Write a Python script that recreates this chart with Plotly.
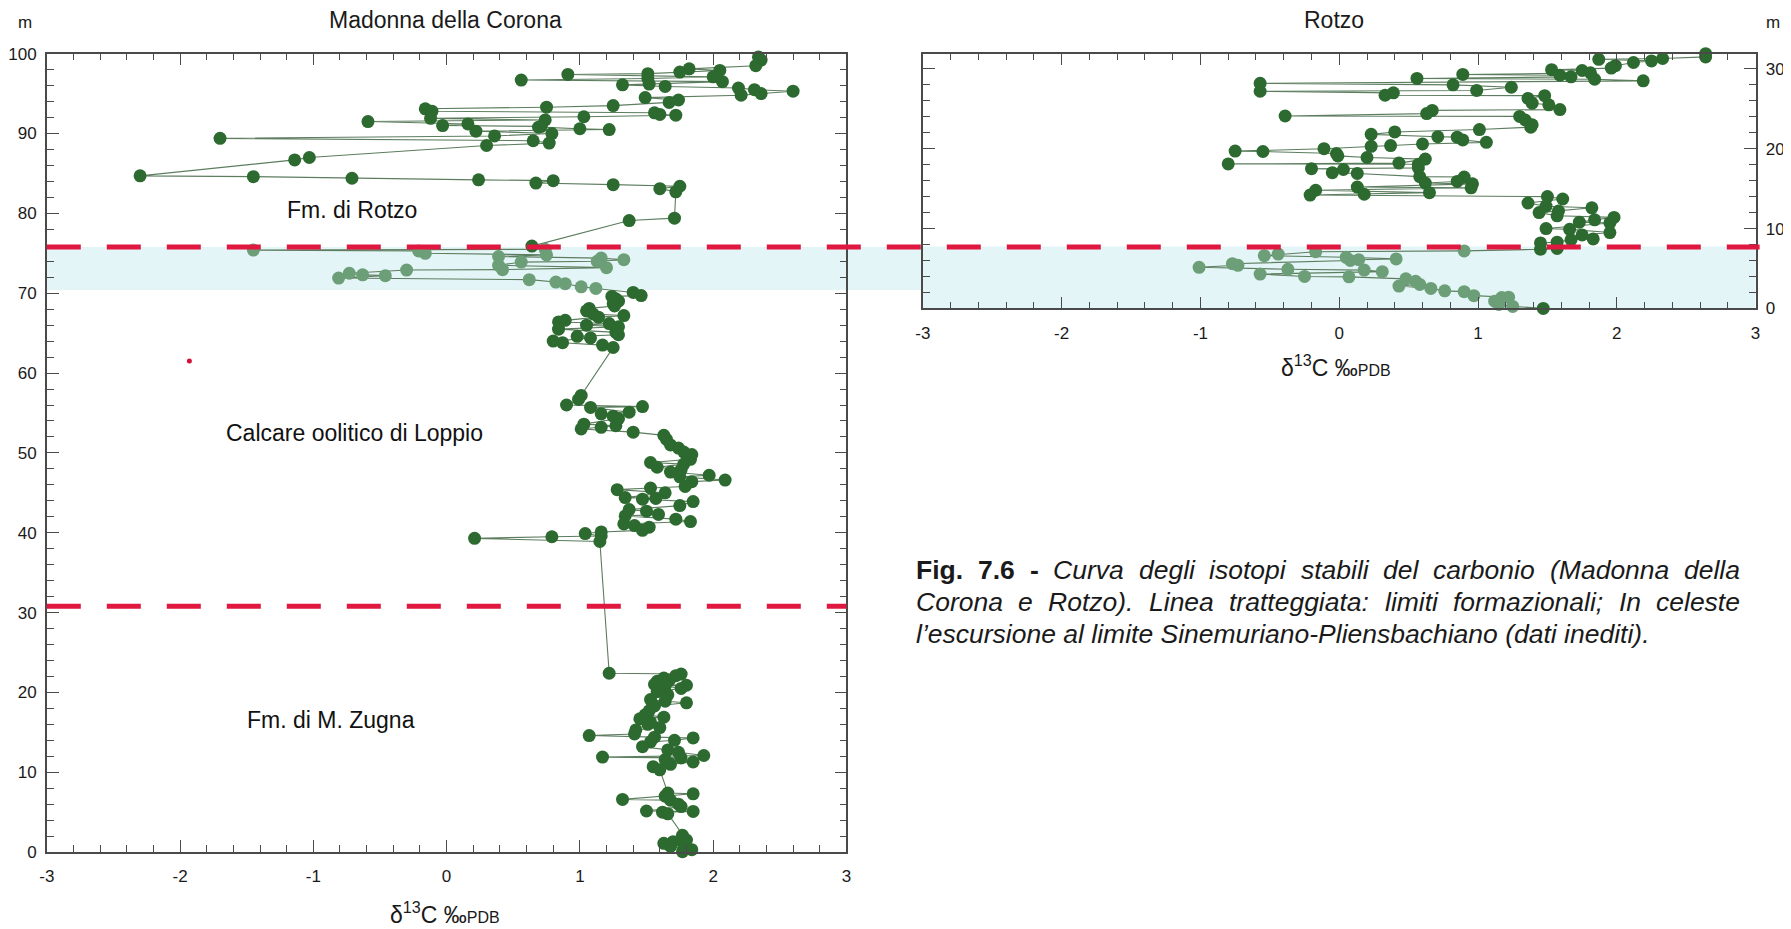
import re
import plotly.graph_objects as go

# ---------------- DATA ----------------
# Madonna della Corona section: depth (m) and d13C (permil PDB)
mc_depth = [99.6, 99.2, 98.5, 98.1, 97.9, 97.7, 97.5, 97.4, 97.1, 96.9, 96.7, 96.5, 96.2, 96.1, 95.9,
            95.7, 95.5, 95.3, 95.0, 94.8, 94.5, 94.2, 93.9, 93.5, 93.3, 93.1, 92.8, 92.6, 92.4, 92.3,
            92.1, 91.9, 91.7, 91.5, 91.2, 91.0, 90.9, 90.8, 90.6, 90.5, 90.3, 90.0, 89.7, 89.4, 89.1,
            88.8, 88.5, 87.0, 86.7, 84.7, 84.6, 84.4, 84.2, 84.1, 83.8, 83.6, 83.4, 83.1, 82.7, 79.4,
            79.1, 75.9,
            75.5, 75.4, 75.3, 75.0, 74.8, 74.6, 74.4, 74.2, 74.0, 73.9, 73.5, 73.2, 72.95, 72.9, 72.5,
            72.3, 72.2, 71.9, 71.7, 71.4, 71.2, 70.8, 70.6,
            70.1, 69.7, 69.6, 69.3, 69.0, 68.7, 68.4, 68.1, 67.8, 67.4, 67.2, 67.0, 66.6, 66.4, 66.2,
            66.0, 65.8, 65.5, 65.1, 64.8, 64.6, 64.4, 64.0, 63.8, 63.5, 63.2, 57.2, 56.7, 56.0, 55.8,
            55.7, 55.1, 54.9, 54.6, 54.3, 53.6, 53.4, 53.2, 53.0, 52.6, 52.2, 51.7, 51.0, 50.6, 50.1,
            49.8, 49.2, 48.8, 48.6, 48.2, 47.9, 47.6, 47.2, 47.0, 46.6, 46.4, 45.8, 45.6, 45.4, 45.0,
            44.4, 44.3, 44.2, 43.9, 43.4, 42.9, 42.7, 42.3, 42.1, 41.7, 41.4, 41.1, 40.9, 40.7, 40.3,
            40.1, 39.9, 39.6, 39.5, 39.3, 38.9, 22.4, 22.3, 22.1, 21.8, 21.5, 21.4, 21.0, 20.9, 20.8,
            20.5, 20.1, 19.7, 19.1, 18.9, 18.7, 18.3, 17.7, 17.2, 16.9, 16.7, 16.3, 16.0, 15.6, 15.3,
            14.8, 14.6, 14.4, 14.3, 14.0, 13.8, 13.2, 12.8, 12.5, 12.1, 11.9, 11.8, 11.6, 11.3, 11.0,
            10.7, 10.3, 7.4, 7.3, 7.0, 6.6, 6.5, 6.0, 5.7, 5.15, 5.1, 5.0, 4.8, 2.1, 1.5, 1.3, 1.1,
            1.0, 0.7, 0.3, 0.05, -0.1]
mc_d13c = [2.34, 2.36, 2.32, 1.82, 2.05, 1.75, 1.51, 0.91, 2.00, 1.51, 0.56, 2.07, 1.52, 1.32, 1.64,
           2.19, 2.31, 2.60, 2.36, 2.21, 1.49, 1.74, 1.67, 1.25, 0.75, -0.16, -0.11, 1.56, 1.60, 1.72,
           1.03, -0.12, 0.74, -0.59, 0.16, -0.03, 0.71, 0.69, 1.00, 1.22, 0.22, 0.79, 0.36, -1.70, 0.65,
           0.77, 0.30, -1.03, -1.14, -2.30, -1.45, -0.71, 0.24, 0.80, 0.67, 1.25, 1.75, 1.60, 1.72, 1.71,
           1.37, 0.64,
           0.74, -1.45, -0.21, -0.16, 0.75, 0.39, 1.16, 1.33, 1.13, 0.56, 0.39, 1.20, 0.42, -0.30, -0.73,
           -0.63, -0.46, -0.81, 0.62, 0.82, 0.89, 1.01, 1.12,
           1.40, 1.46, 1.24, 1.27, 1.29, 1.25, 1.26, 1.07, 1.05, 1.10, 1.33, 1.14, 0.89, 0.84, 1.22,
           1.05, 1.29, 0.84, 1.27, 1.29, 0.98, 1.08, 0.80, 0.87, 1.17, 1.25, 1.01, 0.99, 0.90, 1.47,
           1.08, 1.37, 1.16, 1.25, 1.29, 1.03, 1.27, 1.16, 1.01, 1.40, 1.63, 1.65, 1.68, 1.74, 1.78,
           1.84, 1.83, 1.53, 1.78, 1.58, 1.76, 1.68, 1.97, 1.75, 2.09, 1.84, 1.79, 1.53, 1.28, 1.64,
           1.34, 1.57, 1.47, 1.85, 1.75, 1.37, 1.50, 1.59, 1.34, 1.72, 1.83, 1.33, 1.41, 1.52, 1.47,
           1.16, 1.04, 1.16, 0.79, 0.21, 1.15, 1.22, 1.76, 1.72, 1.63, 1.67, 1.58, 1.56, 1.80, 1.64,
           1.76, 1.58, 1.66, 1.53, 1.64, 1.80, 1.56, 1.52, 1.49, 1.63, 1.45, 1.53, 1.51, 1.60, 1.42,
           1.41, 1.07, 1.56, 1.85, 1.71, 1.53, 1.47, 1.66, 1.74, 1.93, 1.17, 1.76, 1.64, 1.85, 1.68,
           1.55, 1.60, 1.66, 1.85, 1.64, 1.32, 1.68, 1.74, 1.76, 1.50, 1.85, 1.62, 1.66, 1.77, 1.80,
           1.70, 1.63, 1.78, 1.68, 1.84, 1.77, 1.91]

# Rotzo section: depth (m) and d13C (permil PDB)
rz_depth = [31.95, 31.9, 31.5, 31.3, 31.2, 31.0, 30.8, 30.4, 30.1, 29.9, 29.8, 29.5, 29.3, 29.2, 29.0,
            28.8, 28.7, 28.5, 28.2, 28.0, 27.7, 27.3, 27.2, 27.0, 26.7, 26.65, 26.3, 25.7, 25.5, 24.9,
            24.8, 24.4, 24.1, 24.05, 23.6, 23.0, 22.7, 22.4, 22.1, 21.8, 21.5, 21.45, 21.1, 20.8, 20.6,
            20.4, 20.3, 20.0, 19.7, 19.65, 19.4, 19.1, 18.9, 18.7, 18.2, 18.1, 18.05, 17.6, 17.5, 17.4,
            17.0, 16.9, 16.5, 16.45, 15.9, 15.7, 15.6, 15.2, 15.1, 14.8, 14.5, 14.3, 14.2, 14.0, 13.7,
            13.2, 12.8, 12.6, 12.2, 12.0, 11.6, 11.4, 11.1, 10.8, 10.7, 10.0, 9.9, 9.5, 9.2, 8.7, 8.6,
            8.3, 8.2, 7.5, 7.4,
            7.2, 7.1, 6.8, 6.6, 6.4, 6.2, 6.1, 6.0, 5.6, 5.4, 5.15, 4.9, 4.8, 4.6, 4.3, 4.0, 3.95,
            3.7, 3.4, 3.0, 2.8, 2.5, 2.2, 2.1, 1.6, 1.4, 1.35, 0.9, 0.5, 0.25,
            0.0]
rz_d13c = [2.52, 2.64, 2.64, 2.33, 1.87, 2.25, 2.12, 1.99, 1.96, 1.53, 1.75, 1.81, 0.89, 1.59, 1.67,
           0.56, 1.84, 2.19, -0.57, 0.82, 1.24, 0.99, -0.57, 0.39, 0.33, 1.48, 1.36, 1.39, 1.51, 1.59,
           0.67, 0.63, -0.39, 1.30, 1.34, 1.39, 1.38, 1.01, 0.40, 0.23, 0.71, 0.85, 0.89, 1.06, 0.60,
           0.37, 0.23, -0.11, -0.75, -0.55, -0.02, -0.01, 0.20, 0.62, 0.43, -0.80, 0.57, 0.57, -0.20, 0.03,
           -0.05, 0.13, 0.58, 0.90, 0.85, 0.62, 0.96, 0.13, 0.95, -0.17, 0.65, 0.18, -0.21, 1.50, 1.61,
           1.36, 1.49, 1.82, 1.58, 1.44, 1.57, 1.98, 1.84, 1.73, 1.95, 1.49, 1.66, 1.95, 1.75, 1.83, 1.67,
           1.57, 1.45, 1.57, 1.45,
           0.90, -0.17, -0.44, -0.54, 0.05, 0.41, 0.14, 0.08, -0.77, -0.73, -1.01, -0.37, 0.18, 0.31,
           -0.57, -0.25, 0.07, 0.48, 0.55, 0.58, 0.43, 0.66, 0.76, 0.90, 0.97, 1.22, 1.17, 1.12, 1.15, 1.25,
           1.47]

# other plotted items
stray_point_x = [-1.93]
stray_point_y = [61.5]
mc_formation_limits = [75.8, 30.8]
mc_excursion_interval = [70.4, 75.8]
rz_excursion_interval = [0.0, 7.75]
mc_excursion_samples = [70.4, 75.7]
rz_excursion_samples = [0.2, 7.3]
x_ticks = [-3, -2, -1, 0, 1, 2, 3]
x_tick_labels = ["-3", "-2", "-1", "0", "1", "2", "3"]
formation_names = ["Fm. di Rotzo", "Calcare oolitico di Loppio", "Fm. di M. Zugna"]
formation_label_x = [-0.71, -0.69, -0.87]
formation_label_depths = [80.4, 52.5, 16.6]
caption_lines = [
    ["<b>Fig.</b>", "<b>7.6</b>", "<b>-</b>", "<i>Curva</i>", "<i>degli</i>", "<i>isotopi</i>", "<i>stabili</i>",
     "<i>del</i>", "<i>carbonio</i>", "<i>(Madonna</i>", "<i>della</i>"],
    ["<i>Corona</i>", "<i>e</i>", "<i>Rotzo).</i>", "<i>Linea</i>", "<i>tratteggiata:</i>", "<i>limiti</i>",
     "<i>formazionali;</i>", "<i>In</i>", "<i>celeste</i>"],
    ["<i>l’escursione al limite Sinemuriano-Pliensbachiano (dati inediti).</i>"],
]

# ---------------- STYLE ----------------
PAGE_W, PAGE_H = 1791, 929
OFF = 8  # default page margin around the plot div
W, H = PAGE_W - OFF, PAGE_H - OFF
FONT = "Liberation Sans, Arial, Helvetica, sans-serif"
DARK = "#2c6a30"
LIGHT = "#6c9f78"
LINE = "#5d7d5f"
RED = "#e0173f"
BAND = "#e4f5f7"
AX = "#4a4a4a"
TXT = "#1a1a1a"

# panel corners in page pixels
L_x0, L_x1, L_y0, L_y1 = 46.8, 846.4, 53.7, 852.1
R_x0, R_x1, R_y0, R_y1 = 922.9, 1755.6, 53.7, 308.4
px_per_m = (L_y1 - L_y0) / 100.0
rz_top = (R_y1 - R_y0) / px_per_m


def px(x):
    return (x - OFF) / W


def py(y):
    return 1 - (y - OFF) / H


def sorted_series(depth, vals, lo_hi):
    pairs = sorted(zip(depth, vals), key=lambda p: -p[0])
    ds = [p[0] for p in pairs]
    vs = [p[1] for p in pairs]
    cols = [LIGHT if lo_hi[0] <= d <= lo_hi[1] else DARK for d in ds]
    return ds, vs, cols


fig = go.Figure()

d, v, c = sorted_series(mc_depth, mc_d13c, mc_excursion_samples)
fig.add_trace(go.Scatter(x=v, y=d, mode="lines+markers", xaxis="x", yaxis="y",
                         line=dict(color=LINE, width=1.1),
                         marker=dict(color=c, size=13, line=dict(width=0)),
                         cliponaxis=False, showlegend=False, hoverinfo="x+y"))
fig.add_trace(go.Scatter(x=stray_point_x, y=stray_point_y, mode="markers", xaxis="x", yaxis="y",
                         marker=dict(color="#d3123c", size=5), showlegend=False))

d, v, c = sorted_series(rz_depth, rz_d13c, rz_excursion_samples)
fig.add_trace(go.Scatter(x=v, y=d, mode="lines+markers", xaxis="x2", yaxis="y2",
                         line=dict(color=LINE, width=1.1),
                         marker=dict(color=c, size=13, line=dict(width=0)),
                         cliponaxis=False, showlegend=False, hoverinfo="x+y"))

tickfont = dict(family=FONT, size=17, color=TXT)
common_x = dict(range=[-3, 3], tickvals=x_ticks, ticktext=x_tick_labels, ticks="inside", ticklen=12,
                tickwidth=1.3, tickcolor=AX,
                minor=dict(dtick=0.2, ticks="inside", ticklen=7, tickwidth=1.2, tickcolor=AX),
                showline=True, linecolor=AX, linewidth=1.5, mirror="allticks", showgrid=False,
                zeroline=False, tickfont=tickfont, ticklabelstandoff=8, fixedrange=True,
                automargin=False)
common_y = dict(dtick=10, tick0=0, ticks="inside", ticklen=12, tickwidth=1.3, tickcolor=AX,
                minor=dict(dtick=2, ticks="inside", ticklen=7, tickwidth=1.2, tickcolor=AX),
                showline=True, linecolor=AX, linewidth=1.5, mirror="allticks", showgrid=False,
                zeroline=False, tickfont=tickfont, ticklabelstandoff=5, fixedrange=True,
                automargin=False)

shapes = [
    dict(type="rect", xref="paper", yref="y", x0=px(L_x0), x1=px(R_x1),
         y0=mc_excursion_interval[0], y1=mc_excursion_interval[1],
         fillcolor=BAND, line=dict(width=0), layer="below"),
    dict(type="rect", xref="x2", yref="y2", x0=-3, x1=3,
         y0=rz_excursion_interval[0], y1=rz_excursion_interval[1],
         fillcolor=BAND, line=dict(width=0), layer="below"),
    dict(type="line", xref="paper", yref="y", x0=px(L_x0), x1=px(R_x1 + 4),
         y0=mc_formation_limits[0], y1=mc_formation_limits[0],
         line=dict(color=RED, width=5, dash="34px,26px")),
    dict(type="line", xref="x domain", yref="y", x0=0, x1=1,
         y0=mc_formation_limits[1], y1=mc_formation_limits[1],
         line=dict(color=RED, width=5, dash="34px,26px")),
]


def paper_text(text, x, y, size, xanchor="center", **kw):
    return dict(text=text, x=px(x), y=py(y), xref="paper", yref="paper", xanchor=xanchor,
                yanchor="middle", showarrow=False, font=dict(family=FONT, size=size, color=TXT), **kw)


ann = []
ann.append(paper_text("Madonna della Corona", 445, 20, 23))
ann.append(paper_text("Rotzo", 1334, 20, 23))
ann.append(paper_text("m", 25, 22, 17))
ann.append(paper_text("m", 1773, 22, 17))
xt = "δ<sup>13</sup>C ‰<span style='font-size:16px'>PDB</span>"
ann.append(paper_text(xt, 445, 913, 23))
ann.append(paper_text(xt, 1336, 366, 23))
for name, xc, dep in zip(formation_names, formation_label_x, formation_label_depths):
    ann.append(dict(text=name, x=xc, y=dep, xref="x", yref="y", xanchor="center", yanchor="middle",
                    showarrow=False, font=dict(family=FONT, size=23, color="#111111")))

# caption with approximate justification (Arial / Liberation Sans metrics)
AW = {'a': 556, 'b': 556, 'c': 500, 'd': 556, 'e': 556, 'f': 278, 'g': 556, 'h': 556, 'i': 222, 'j': 222,
      'k': 500, 'l': 222, 'm': 833, 'n': 556, 'o': 556, 'p': 556, 'q': 556, 'r': 333, 's': 500, 't': 278,
      'u': 556, 'v': 500, 'w': 722, 'x': 500, 'y': 500, 'z': 500, 'C': 722, 'F': 611, 'I': 278, 'L': 556,
      'M': 833, 'R': 722, 'P': 667, 'S': 667, '.': 278, '-': 333, '(': 333, ')': 333, ';': 278, ':': 278,
      '7': 556, '6': 556, '’': 222, ' ': 278}
AWB = {'F': 611, 'i': 278, 'g': 611, '.': 278, '7': 556, '6': 556, '-': 333}
CAP_SIZE = 26.5


def word_w(w):
    t = re.sub(r"<[^>]+>", "", w)
    table = AWB if "<b>" in w else AW
    return sum(table.get(ch, AW.get(ch, 556)) for ch in t) / 1000.0 * CAP_SIZE


cap_left, cap_right = 914, 1738
cap_y = [570, 602, 634]
for li, words in enumerate(caption_lines):
    if len(words) == 1:
        ann.append(paper_text(words[0], cap_left, cap_y[li], CAP_SIZE, xanchor="left"))
        continue
    widths = [word_w(w) for w in words]
    gap = (cap_right - cap_left - sum(widths)) / (len(words) - 1)
    xcur = cap_left
    for w, ww in zip(words, widths):
        ann.append(paper_text(w, xcur, cap_y[li], CAP_SIZE, xanchor="left"))
        xcur += ww + gap

fig.update_layout(
    width=W, height=H, margin=dict(l=0, r=0, t=0, b=0, pad=0), autosize=False,
    paper_bgcolor="white", plot_bgcolor="rgba(0,0,0,0)",
    xaxis=dict(domain=[px(L_x0), px(L_x1)], anchor="y", **common_x),
    yaxis=dict(domain=[py(L_y1), py(L_y0)], range=[0, 100], anchor="x", **common_y),
    xaxis2=dict(domain=[px(R_x0), px(R_x1)], anchor="y2", **common_x),
    yaxis2=dict(domain=[py(R_y1), py(R_y0)], range=[0, rz_top], anchor="x2", side="right", **common_y),
    shapes=shapes, annotations=ann, showlegend=False,
)

fig.write_html("out.html")
